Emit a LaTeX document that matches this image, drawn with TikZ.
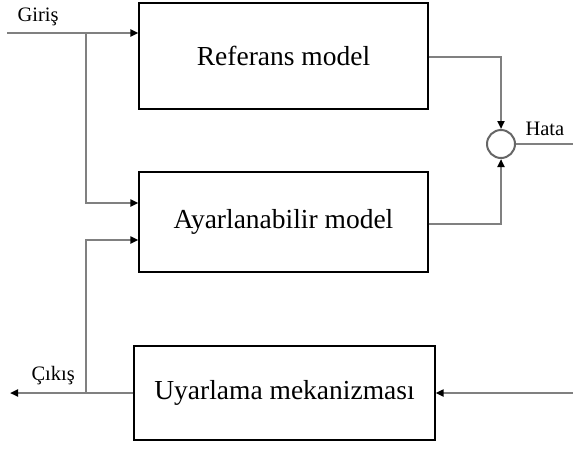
\documentclass[tikz,border=0pt]{standalone}
\usepackage{fontspec}
\setmainfont{Liberation Serif}
\usetikzlibrary{arrows.meta}
\begin{document}
\begin{tikzpicture}[x=1pt,y=-1pt,
  blk/.style={draw=black,line width=1.3pt,inner sep=0pt,font=\fontsize{27.5}{32}\selectfont},
  sig/.style={draw=black!50,line width=2pt},
  arr/.style={sig,-{Triangle[length=8pt,width=7pt,black]}},
  lbl/.style={font=\fontsize{20.5}{24}\selectfont}]
\useasboundingbox (0,0) rectangle (573,448);
\node[blk,minimum width=289pt,minimum height=106pt] (ref) at (283.5,56) {Referans model};
\node[blk,minimum width=289pt,minimum height=100pt] (adj) at (283.5,222) {Ayarlanabilir model};
\node[blk,minimum width=301pt,minimum height=94pt] (mech) at (284.5,393) {Uyarlama mekanizması};
\node[draw=black!60,line width=2pt,circle,minimum size=28pt,inner sep=0pt] (sum) at (501,144) {};
\coordinate (in) at (7,33);
\coordinate (j1) at (86,33);
\coordinate (j2) at (86,393);
\coordinate (out) at (10,393);
\coordinate (err) at (573,144);
\coordinate (rin) at (573,393);
\draw[arr] (in) -- (ref.west |- in);
\draw[arr] (j1) |- (adj.west |- 0,203);
\draw[arr] (j2) |- (adj.west |- 0,240);
\draw[arr] (mech.west) -- (out);
\draw[arr] (ref.east |- 0,57) -| (sum.north);
\draw[arr] (adj.east |- 0,224) -| (sum.south);
\draw[sig] (sum.east) -- (err);
\draw[arr] (rin) -- (mech.east);
\node[lbl,anchor=south west] (giris) at (14,29) {Giriş};
\node[lbl,anchor=south west] (cikis) at (28,388) {Çıkış};
\node[lbl,anchor=south west] (hata) at (522,139) {Hata};
\end{tikzpicture}
\end{document}
